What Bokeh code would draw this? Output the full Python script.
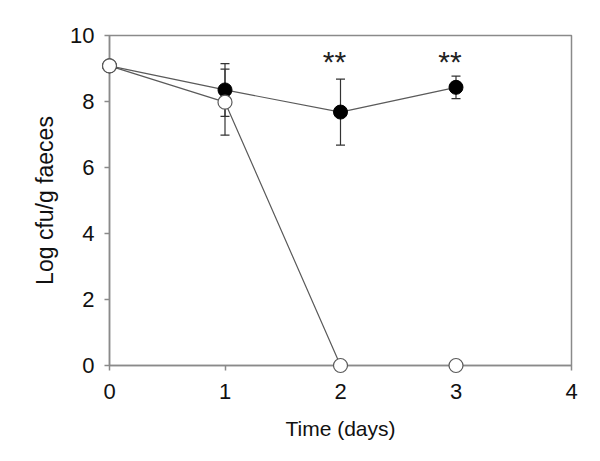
from bokeh.plotting import figure
from bokeh.models import Range1d, FixedTicker, Whisker, ColumnDataSource, TeeHead
from bokeh.embed import file_html
from bokeh.resources import INLINE
from bokeh.core.properties import value

days = [0, 1, 2, 3]
treated = [9.08, 8.35, 7.68, 8.43]
treated_err = [0.0, 0.8, 1.0, 0.34]
control = [9.08, 7.98, 0.0, 0.0]
control_err = [0.0, 1.0, 0.0, 0.0]
star_days = [2, 3]
star_labels = ["**", "**"]
x_ticks = [0, 1, 2, 3, 4]
y_ticks = [0, 2, 4, 6, 8, 10]

FONT = "Liberation Sans"
AX = "#8a8a8a"
LN = "#5a5a5a"

p = figure(width=584, height=453, output_backend="svg", toolbar_location=None,
           x_range=Range1d(0, 4), y_range=Range1d(0, 10),
           min_border_left=109, min_border_right=13, min_border_top=35, min_border_bottom=88)
p.grid.visible = False
p.outline_line_color = AX
p.outline_line_width = 1.5

for ax in (p.xaxis[0], p.yaxis[0]):
    ax.axis_line_color = AX
    ax.axis_line_width = 1.5
    ax.major_tick_line_color = AX
    ax.major_tick_line_width = 1.5
    ax.major_tick_out = 5
    ax.major_tick_in = 0
    ax.minor_tick_line_color = None
    ax.major_label_text_font = FONT
    ax.major_label_text_font_size = "22px"
    ax.major_label_text_color = "#111111"
    ax.axis_label_text_font = FONT
    ax.axis_label_text_font_style = "normal"
    ax.axis_label_text_color = "#111111"

p.xaxis.ticker = FixedTicker(ticks=x_ticks)
p.yaxis.ticker = FixedTicker(ticks=y_ticks)
p.xaxis.axis_label = "Time (days)"
p.yaxis.axis_label = "Log cfu/g faeces"
p.xaxis.axis_label_text_font_size = "21px"
p.yaxis.axis_label_text_font_size = "23px"
p.xaxis.major_label_standoff = 13
p.xaxis.axis_label_standoff = 15
p.yaxis.major_label_standoff = 10
p.yaxis.axis_label_standoff = 9

src_t = ColumnDataSource(dict(x=days, y=treated,
                              lo=[v - e for v, e in zip(treated, treated_err)],
                              hi=[v + e for v, e in zip(treated, treated_err)]))
src_c = ColumnDataSource(dict(x=days, y=control,
                              lo=[v - e for v, e in zip(control, control_err)],
                              hi=[v + e for v, e in zip(control, control_err)]))

p.line("x", "y", source=src_c, line_color=LN, line_width=1.2)
p.line("x", "y", source=src_t, line_color=LN, line_width=1.2)

for src in (src_t, src_c):
    w = Whisker(base="x", lower="lo", upper="hi", source=src, line_color="#333333", line_width=1.2)
    w.upper_head = TeeHead(size=9, line_color="#333333", line_width=1.2)
    w.lower_head = TeeHead(size=9, line_color="#333333", line_width=1.2)
    p.add_layout(w)

r1 = p.scatter("x", "y", source=src_t, size=14, fill_color="black", line_color="black")
r2 = p.scatter("x", "y", source=src_c, size=14, fill_color="white", line_color=LN, line_width=1.2)
r1.level = "overlay"
r2.level = "overlay"

star_y = [9.2 for _ in star_days]
p.text(x=star_days, y=star_y, text=star_labels, text_font=value(FONT), text_font_size="30px",
       text_align="center", text_baseline="middle", text_color="#222222", x_offset=-6)

open("out.html", "w").write(file_html(p, INLINE))
